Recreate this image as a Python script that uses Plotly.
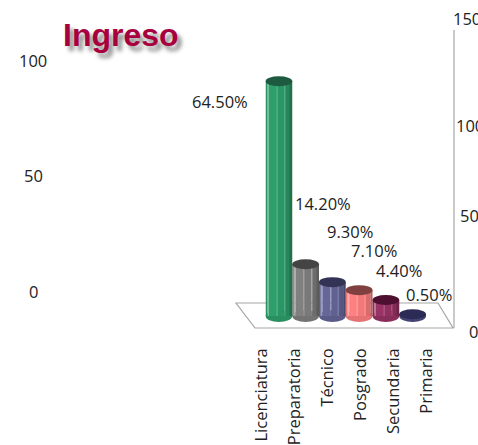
"""Ingreso: pseudo 3D cylinder chart drawn with overlaid Plotly bars."""

import plotly.graph_objects as go

WIDTH = 478
HEIGHT = 445
FONT = "Open Sans"

# ── Data ──────────────────────────────────────────────────────────────────────
CATEGORIES = ["Licenciatura", "Preparatoria", "Técnico", "Posgrado", "Secundaria", "Primaria"]
VALUES = [64.5, 14.2, 9.3, 7.1, 4.4, 0.5]
VALUE_LABELS = ["64.50%", "14.20%", "9.30%", "7.10%", "4.40%", "0.50%"]
LEFT_TICKS = ["100", "50", "0"]
RIGHT_TICKS = ["150", "100", "50", "0"]

# ── Colors ────────────────────────────────────────────────────────────────────
BAR_COLORS = ["#2E9E6B", "#808080", "#666699", "#FF8080", "#993366", "#4A4A80"]
CAP_COLORS = ["#1E5A40", "#444444", "#333355", "#804040", "#4D1030", "#2B2B55"]
TEXT = "#222222"
FRAME = "#A6A6A6"

# ── Pixel layout ──────────────────────────────────────────────────────────────
BASE_Y = 316          # pixel row of value 0
PX_PER_UNIT = 3.64
CAP_HALF = 5 / PX_PER_UNIT
BARS_X = (265.5, 426)
LABELS_X = (245.5, 443.5)
VALUE_LABEL_POS = [(220, 102), (323, 204), (350, 231), (374, 250), (399, 270), (429, 294)]
LEFT_TICK_POS = [(33, 61), (33, 176), (33, 291)]
RIGHT_TICK_POS = [(451, 18), (454, 125), (458, 216), (467, 331)]
FLOOR = [(236, 303), (438, 303), (453, 328), (255, 328)]

# offset, width, shade (1 = base color, <1 darker, >1 towards white)
FACETS = [
    (-0.50, 0.08, 0.92),
    (-0.42, 0.05, 1.35),
    (-0.37, 0.30, 1.00),
    (-0.07, 0.03, 1.20),
    (-0.04, 0.26, 0.95),
    (0.22, 0.03, 1.12),
    (0.25, 0.18, 0.85),
    (0.43, 0.07, 0.72),
]


def shade(hex_color, factor):
    h = hex_color.lstrip("#")
    rgb = [int(h[i:i + 2], 16) for i in (0, 2, 4)]
    if factor <= 1:
        rgb = [int(c * factor) for c in rgb]
    else:
        rgb = [int(c + (255 - c) * (factor - 1)) for c in rgb]
    return "#%02x%02x%02x" % tuple(rgb)


def px_annotation(text, pos, **kwargs):
    return dict(
        text=text, x=pos[0] / WIDTH, y=1 - pos[1] / HEIGHT,
        xref="paper", yref="paper", showarrow=False,
        font=dict(family=FONT, size=16.5, color=TEXT), **kwargs,
    )


fig = go.Figure()

for offset, width, factor in FACETS:
    fig.add_trace(go.Bar(
        x=CATEGORIES,
        y=VALUES,
        offset=offset,
        width=width,
        marker=dict(color=[shade(c, factor) for c in BAR_COLORS], line=dict(width=0)),
        hoverinfo="skip",
    ))

# Invisible trace so the spread-out label axis gets drawn
fig.add_trace(go.Scatter(x=CATEGORIES, y=VALUES, xaxis="x2", mode="none", hoverinfo="skip"))

shapes = [dict(
    type="path", xref="paper", yref="paper", layer="below",
    path="M " + " L ".join(f"{x / WIDTH},{1 - y / HEIGHT}" for x, y in FLOOR) + " Z",
    line=dict(color=FRAME, width=1.2), fillcolor="rgba(0,0,0,0)",
), dict(
    type="line", xref="paper", yref="paper", layer="below",
    x0=454 / WIDTH, x1=454 / WIDTH, y0=1 - 328 / HEIGHT, y1=1 - 30 / HEIGHT,
    line=dict(color=FRAME, width=1.2),
)]

for i, value in enumerate(VALUES):
    # bottom rim of the cylinder
    shapes.append(dict(
        type="circle", xref="x", yref="y", layer="below",
        x0=i - 0.5, x1=i + 0.5, y0=-CAP_HALF * 1.2, y1=CAP_HALF * 1.2,
        fillcolor=shade(BAR_COLORS[i], 0.9), line=dict(width=0),
    ))
    # top cap
    shapes.append(dict(
        type="circle", xref="x", yref="y", layer="above",
        x0=i - 0.5, x1=i + 0.5, y0=value - CAP_HALF, y1=value + CAP_HALF,
        fillcolor=CAP_COLORS[i], line=dict(width=0),
    ))

annotations = []
for text, pos in zip(VALUE_LABELS, VALUE_LABEL_POS):
    annotations.append(px_annotation(text, pos, xanchor="center", yanchor="middle"))
for text, pos in zip(LEFT_TICKS, LEFT_TICK_POS):
    annotations.append(px_annotation(text, pos, xanchor="center", yanchor="middle"))
for text, pos in zip(RIGHT_TICKS, RIGHT_TICK_POS):
    annotations.append(px_annotation(text, pos, xanchor="left", yanchor="middle"))

fig.update_layout(
    width=WIDTH,
    height=HEIGHT,
    barmode="overlay",
    showlegend=False,
    margin=dict(l=0, r=0, t=0, b=0),
    paper_bgcolor="white",
    plot_bgcolor="rgba(0,0,0,0)",
    title=dict(
        text="<b>Ingreso</b>",
        x=63 / WIDTH, xanchor="left", xref="paper",
        y=1 - 35 / HEIGHT, yanchor="middle", yref="paper",
        font=dict(family="Liberation Sans", size=32, color="#A8003F",
                  shadow="4px 5px 4px #8A8A8A"),
    ),
    xaxis=dict(
        domain=[BARS_X[0] / WIDTH, BARS_X[1] / WIDTH],
        categoryorder="array", categoryarray=CATEGORIES,
        range=[-0.5, 5.5], showticklabels=False, showgrid=False,
        zeroline=False, showline=False, ticks="",
    ),
    xaxis2=dict(
        domain=[LABELS_X[0] / WIDTH, LABELS_X[1] / WIDTH],
        anchor="free", position=1 - 344 / HEIGHT,
        categoryorder="array", categoryarray=CATEGORIES,
        range=[-0.5, 5.5], tickangle=-90, showgrid=False,
        zeroline=False, showline=False, ticks="",
        tickfont=dict(family=FONT, size=16.5, color=TEXT),
    ),
    yaxis=dict(
        domain=[0, 1],
        range=[-(HEIGHT - BASE_Y) / PX_PER_UNIT, BASE_Y / PX_PER_UNIT],
        visible=False,
    ),
    shapes=shapes,
    annotations=annotations,
)

# the page's default body margin would push the figure 8px off
fig.write_html("out.html", config=dict(displayModeBar=False),
               post_script="document.body.style.margin='0';document.body.style.overflow='hidden';")
